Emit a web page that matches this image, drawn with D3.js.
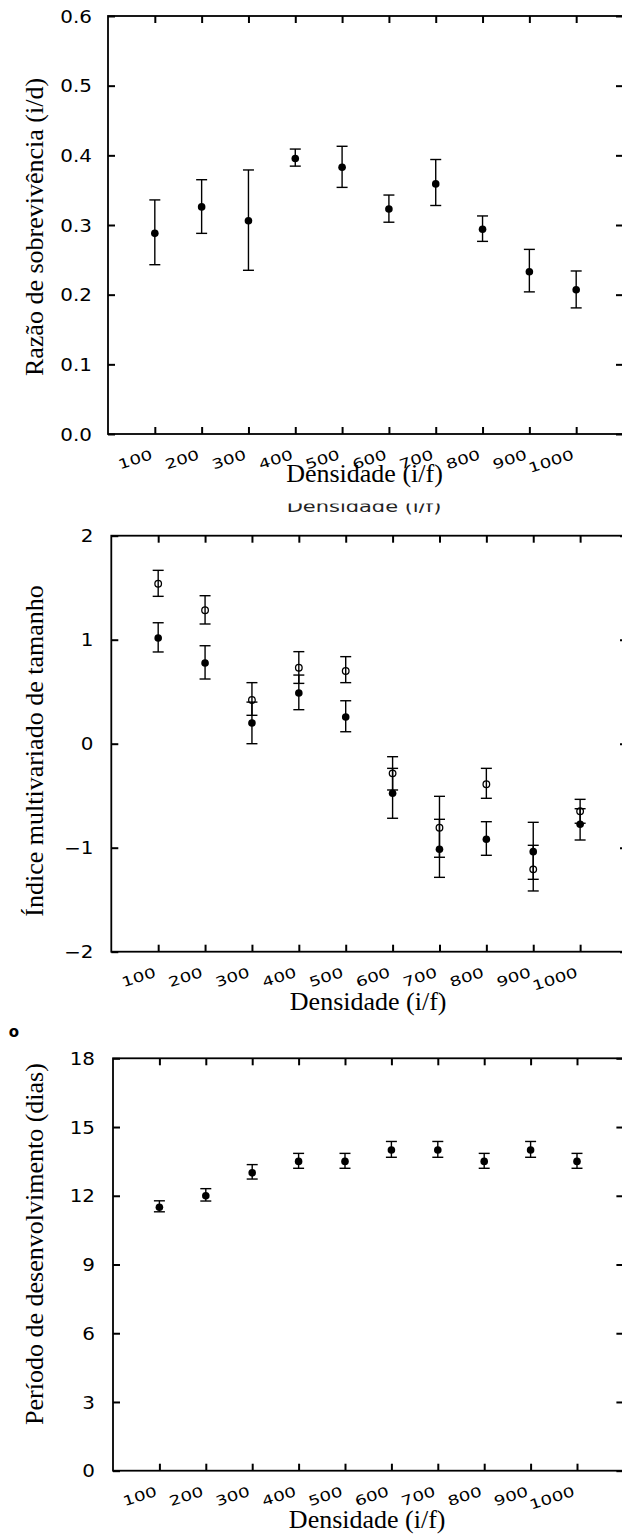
<!DOCTYPE html>
<html>
<head>
<meta charset="utf-8">
<script src="https://cdn.jsdelivr.net/npm/d3@7"></script>
<style>
  body { margin: 0; background: #fff; }
  svg { display: block; }
  .tick line { stroke: #000; stroke-width: 2; }
  .tick text { font-family: "DejaVu Sans", sans-serif; fill: #000; }
  .title { font-family: "Liberation Serif", "Times New Roman", serif; font-size: 26px; fill: #000; }
</style>
</head>
<body>
<svg id="chart" width="622" height="1537"></svg>
<script>
(function (d3) {
    'use strict';

    // densidade (i/f)
    const density = [100, 200, 300, 400, 500, 600, 700, 800, 900, 1000];

    // razão de sobrevivência
    const survival   = [0.288, 0.326, 0.306, 0.3955, 0.383, 0.323, 0.359, 0.294, 0.233, 0.207];
    const survivalLo = [0.243, 0.288, 0.235, 0.3845, 0.354, 0.304, 0.328, 0.2765, 0.204, 0.181];
    const survivalHi = [0.336, 0.365, 0.379, 0.409, 0.413, 0.343, 0.394, 0.313, 0.265, 0.234];

    // índice multivariado de tamanho (filled / open)
    const sizeFilled   = [1.016, 0.776, 0.199, 0.4875, 0.257, -0.477, -1.015, -0.919, -1.038, -0.775];
    const sizeFilledLo = [0.882, 0.622, 0.0, 0.327, 0.115, -0.717, -1.285, -1.073, -1.304, -0.926];
    const sizeFilledHi = [1.163, 0.942, 0.40, 0.66, 0.413, -0.237, -0.727, -0.75, -0.756, -0.625];
    const sizeOpen     = [1.538, 1.283, 0.42, 0.731, 0.699, -0.285, -0.808, -0.39, -1.208, -0.65];
    const sizeOpenLo   = [1.417, 1.151, 0.273, 0.58, 0.587, -0.445, -1.092, -0.525, -1.416, -0.765];
    const sizeOpenHi   = [1.667, 1.423, 0.587, 0.885, 0.837, -0.125, -0.506, -0.237, -0.977, -0.535];

    // período de desenvolvimento (dias)
    const devTime   = [11.5, 12.0, 13.0, 13.5, 13.5, 14.0, 14.0, 13.5, 14.0, 13.5];
    const devTimeLo = [11.3, 11.77, 12.73, 13.2, 13.2, 13.68, 13.68, 13.2, 13.68, 13.2];
    const devTimeHi = [11.78, 12.31, 13.36, 13.85, 13.85, 14.37, 14.37, 13.85, 14.37, 13.85];

    const ticksSurvival = [0, 0.1, 0.2, 0.3, 0.4, 0.5, 0.6];
    const ticksSize = [-2, -1, 0, 1, 2];
    const ticksDev = [0, 3, 6, 9, 12, 15, 18];

    const xLabel = 'Densidade (i/f)';

    const svg = d3.select('#chart');

    function stretch(sel, factor) {
        sel.each(function () {
            const w = this.getComputedTextLength();
            d3.select(this).attr('textLength', w * factor).attr('lengthAdjust', 'spacingAndGlyphs');
        });
    }

    function panel(cfg) {
        const g = svg.append('g');
        const x = d3.scaleLinear().domain([0, 1100]).range([cfg.left, cfg.right]);
        const y = d3.scaleLinear().domain(cfg.yDomain).range([cfg.bottom, cfg.top]);

        const bottomAxis = g.append('g')
            .attr('transform', `translate(0,${cfg.bottom})`)
            .call(d3.axisBottom(x).tickValues(density).tickSize(-7).tickFormat(d3.format('d')));
        bottomAxis.selectAll('.tick text')
            .attr('x', -2).attr('y', 0).attr('dy', 0)
            .attr('text-anchor', 'end')
            .attr('font-size', 13.5)
            .attr('transform', 'translate(0,24) rotate(-18)')
            .call(stretch, 1.36);

        g.append('g')
            .attr('transform', `translate(0,${cfg.top})`)
            .call(d3.axisTop(x).tickValues(density).tickSize(-7).tickFormat(''));

        const leftAxis = g.append('g')
            .attr('transform', `translate(${cfg.left},0)`)
            .call(d3.axisLeft(y).tickValues(cfg.yTicks).tickSize(-7).tickPadding(cfg.pad).tickFormat(cfg.fmt));
        leftAxis.selectAll('.tick text')
            .attr('font-size', 17).attr('dy', '0.36em')
            .call(stretch, 1.17);

        g.append('g')
            .attr('transform', `translate(${cfg.right},0)`)
            .call(d3.axisRight(y).tickValues(cfg.yTicks).tickSize(-7).tickFormat(''));

        g.selectAll('.domain').remove();

        g.append('rect')
            .attr('x', cfg.left).attr('y', cfg.top)
            .attr('width', cfg.right - cfg.left).attr('height', cfg.bottom - cfg.top)
            .attr('fill', 'none').attr('stroke', '#000').attr('stroke-width', 1.8);

        cfg.series.forEach(s => {
            const rows = density.map((d, i) => ({ d: d, v: s.v[i], lo: s.lo[i], hi: s.hi[i] }));
            const bars = g.append('g').attr('stroke', '#000').attr('stroke-width', 1.4);
            bars.selectAll('.stem').data(rows).enter().append('line')
                .attr('x1', r => x(r.d)).attr('x2', r => x(r.d))
                .attr('y1', r => y(r.lo)).attr('y2', r => y(r.hi));
            bars.selectAll('.capHi').data(rows).enter().append('line')
                .attr('x1', r => x(r.d) - 5.5).attr('x2', r => x(r.d) + 5.5)
                .attr('y1', r => y(r.hi)).attr('y2', r => y(r.hi));
            bars.selectAll('.capLo').data(rows).enter().append('line')
                .attr('x1', r => x(r.d) - 5.5).attr('x2', r => x(r.d) + 5.5)
                .attr('y1', r => y(r.lo)).attr('y2', r => y(r.lo));
            g.append('g').selectAll('circle').data(rows).enter().append('circle')
                .attr('cx', r => x(r.d)).attr('cy', r => y(r.v))
                .attr('r', s.open ? 3.3 : 3.8)
                .attr('fill', s.open ? 'none' : '#000')
                .attr('stroke', '#000').attr('stroke-width', s.open ? 1.3 : 0);
        });

        g.append('text').attr('class', 'title')
            .attr('x', (cfg.left + cfg.right) / 2 - 1).attr('y', cfg.xTitleY)
            .attr('text-anchor', 'middle').text(xLabel);

        g.append('text').attr('class', 'title')
            .attr('transform', `translate(43,${cfg.yTitleMid}) rotate(-90)`)
            .attr('text-anchor', 'middle').text(cfg.yLabel);
    }

    panel({
        left: 108, right: 623, top: 16, bottom: 434,
        yDomain: [0, 0.6], yTicks: ticksSurvival, fmt: d3.format('.1f'), pad: 16,
        yLabel: 'Razão de sobrevivência (i/d)', yTitleMid: 227, xTitleY: 482,
        series: [{ v: survival, lo: survivalLo, hi: survivalHi, open: false }]
    });

    panel({
        left: 111.3, right: 627, top: 535.7, bottom: 951.7,
        yDomain: [-2, 2], yTicks: ticksSize, fmt: d3.format('d'), pad: 18,
        yLabel: 'Índice multivariado de tamanho', yTitleMid: 751, xTitleY: 1010,
        series: [
            { v: sizeFilled, lo: sizeFilledLo, hi: sizeFilledHi, open: false },
            { v: sizeOpen, lo: sizeOpenLo, hi: sizeOpenHi, open: true }
        ]
    });

    panel({
        left: 113, right: 623.4, top: 1058.3, bottom: 1470.7,
        yDomain: [0, 18], yTicks: ticksDev, fmt: d3.format('d'), pad: 18,
        yLabel: 'Período de desenvolvimento (dias)', yTitleMid: 1244, xTitleY: 1528,
        series: [{ v: devTime, lo: devTimeLo, hi: devTimeHi, open: false }]
    });

    // faint duplicate axis title under the first panel, its top cut off
    svg.append('clipPath').attr('id', 'ghostClip')
        .append('rect').attr('x', 0).attr('y', 503.5).attr('width', 622).attr('height', 20);
    svg.append('text')
        .attr('clip-path', 'url(#ghostClip)')
        .attr('x', 364).attr('y', 511.5)
        .attr('text-anchor', 'middle')
        .attr('font-family', 'DejaVu Sans, sans-serif').attr('font-size', 16.5)
        .attr('fill', '#222')
        .text('Densidade  (i/f)')
        .call(stretch, 1.27);

    // stray panel marker
    svg.append('text')
        .attr('x', 14).attr('y', 1037)
        .attr('text-anchor', 'middle')
        .attr('font-family', 'DejaVu Sans, sans-serif').attr('font-weight', 'bold').attr('font-size', 15)
        .text('o');

}(d3));
</script>
</body>
</html>
